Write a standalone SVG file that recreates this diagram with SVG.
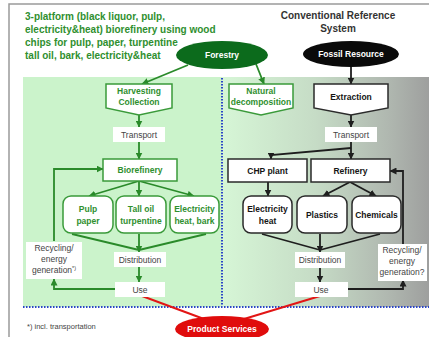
<svg xmlns="http://www.w3.org/2000/svg" width="429" height="337" viewBox="0 0 429 337">
  <defs>
    <linearGradient id="convBg" x1="0" y1="0" x2="1" y2="0">
      <stop offset="0" stop-color="#d6f6d6"/>
      <stop offset="0.45" stop-color="#c6dcc6"/>
      <stop offset="0.8" stop-color="#b0b8b0"/>
      <stop offset="1" stop-color="#9e9f9e"/>
    </linearGradient>
    <marker id="arrG" markerUnits="userSpaceOnUse" markerWidth="7" markerHeight="7" refX="6.5" refY="3.5" orient="auto">
      <path d="M0,0 L7,3.5 L0,7 z" fill="#2a8a2a"/>
    </marker>
    <marker id="arrK" markerUnits="userSpaceOnUse" markerWidth="7" markerHeight="7" refX="6.5" refY="3.5" orient="auto">
      <path d="M0,0 L7,3.5 L0,7 z" fill="#1e1e1e"/>
    </marker>
    <style>
      text { font-family: "Liberation Sans", Arial, sans-serif; }
      .title { font-size: 10px; font-weight: bold; fill: #2f8f2f; }
      .head { font-size: 10px; font-weight: bold; fill: #333; text-anchor: middle; }
      .gbox { fill: #fff; stroke: #3a9a3a; stroke-width: 1.5; }
      .kbox { fill: #fff; stroke: #2a2a2a; stroke-width: 1.5; }
      .plain { fill: #fff; }
      .glab { font-size: 8.5px; font-weight: bold; fill: #2f8f2f; text-anchor: middle; }
      .klab { font-size: 8.5px; font-weight: bold; fill: #151515; text-anchor: middle; }
      .nlab { font-size: 8.5px; fill: #444; text-anchor: middle; }
      .elab { font-size: 8.5px; font-weight: bold; fill: #fff; text-anchor: middle; }
      .gl { fill: none; stroke: #2a8a2a; stroke-width: 1.8; }
      .kl { fill: none; stroke: #1e1e1e; stroke-width: 1.8; }
      .rl { fill: none; stroke: #e21515; stroke-width: 2; }
      .dot { fill: none; stroke: #2b45c8; stroke-width: 2; stroke-dasharray: 1.5 1.5; }
    </style>
  </defs>

  <!-- page and panels -->
  <rect x="0" y="0" width="429" height="337" fill="#fff"/>
  <rect x="9" y="4" width="440" height="350" fill="#fff" stroke="#9a9a9a" stroke-width="1.5"/>
  <rect x="23" y="77" width="199" height="230" fill="#cbf3cb"/>
  <rect x="222" y="77" width="207" height="230" fill="url(#convBg)"/>
  <line class="dot" x1="222" y1="78" x2="222" y2="306"/>
  <line class="dot" x1="23" y1="307" x2="429" y2="307"/>

  <!-- headings -->
  <g id="bio-heading">
    <text class="title" x="25" y="19.5">3-platform (black liquor, pulp,</text>
    <text class="title" x="25" y="32.5">electricity&amp;heat) biorefinery using wood</text>
    <text class="title" x="25" y="45.5">chips for pulp, paper, turpentine</text>
    <text class="title" x="25" y="58.5">tall oil, bark, electricity&amp;heat</text>
  </g>
  <g id="conv-heading">
    <text class="head" x="338" y="19">Conventional Reference</text>
    <text class="head" x="338" y="32">System</text>
  </g>

  <!-- connectors -->
  <g id="connectors">
    <!-- bio side -->
    <line class="gl" x1="188" y1="65" x2="142" y2="84" marker-end="url(#arrG)"/>
    <line class="gl" x1="256" y1="64" x2="264" y2="84" marker-end="url(#arrG)"/>
    <line class="gl" x1="139" y1="115" x2="139" y2="127" marker-end="url(#arrG)"/>
    <line class="gl" x1="139" y1="142" x2="139" y2="159" marker-end="url(#arrG)"/>
    <line class="gl" x1="139" y1="181" x2="89" y2="196" marker-end="url(#arrG)"/>
    <line class="gl" x1="139" y1="181" x2="139" y2="196" marker-end="url(#arrG)"/>
    <line class="gl" x1="139" y1="181" x2="194" y2="196" marker-end="url(#arrG)"/>
    <line class="gl" x1="72" y1="234" x2="139" y2="250"/>
    <line class="gl" x1="206" y1="234" x2="139" y2="250"/>
    <line class="gl" x1="139" y1="234" x2="139" y2="252" marker-end="url(#arrG)"/>
    <line class="gl" x1="139" y1="267" x2="139" y2="282" marker-end="url(#arrG)"/>
    <polyline class="gl" points="115,289 54,289 54,279" marker-end="url(#arrG)"/>
    <polyline class="gl" points="54,241 54,169 103,169" marker-end="url(#arrG)"/>
    <!-- conventional side -->
    <line class="kl" x1="351" y1="67" x2="351" y2="84" marker-end="url(#arrK)"/>
    <line class="kl" x1="351" y1="115" x2="351" y2="127" marker-end="url(#arrK)"/>
    <line class="kl" x1="351" y1="142" x2="351" y2="159" marker-end="url(#arrK)"/>
    <polyline class="kl" points="351,148 271,155 271,159" marker-end="url(#arrK)"/>
    <line class="kl" x1="268" y1="182" x2="268" y2="196" marker-end="url(#arrK)"/>
    <line class="kl" x1="350" y1="182" x2="323" y2="196" marker-end="url(#arrK)"/>
    <line class="kl" x1="350" y1="182" x2="376" y2="196" marker-end="url(#arrK)"/>
    <line class="kl" x1="262" y1="234" x2="320" y2="250"/>
    <line class="kl" x1="380" y1="234" x2="320" y2="250"/>
    <line class="kl" x1="320" y1="234" x2="320" y2="252" marker-end="url(#arrK)"/>
    <line class="kl" x1="320" y1="268" x2="320" y2="282" marker-end="url(#arrK)"/>
    <polyline class="kl" points="348,289 403,289 403,280" marker-end="url(#arrK)"/>
    <polyline class="kl" points="403,244 403,171 390,171" marker-end="url(#arrK)"/>
    <!-- product services -->
    <line class="rl" x1="142" y1="296" x2="204" y2="319"/>
    <line class="rl" x1="320" y1="296" x2="244" y2="319"/>
  </g>

  <!-- resources -->
  <g id="forestry">
    <ellipse cx="222" cy="55" rx="46" ry="14" fill="#0c6b1c"/>
    <text class="elab" x="222" y="58">Forestry</text>
  </g>
  <g id="fossil-resource">
    <ellipse cx="351" cy="54" rx="48" ry="13" fill="#0a0a0a"/>
    <text class="elab" x="351" y="57">Fossil Resource</text>
  </g>

  <!-- bio chain -->
  <g id="harvesting">
    <path class="gbox" d="M106,84 H172 V108 L139,115 L106,108 Z"/>
    <text class="glab" x="139" y="94">Harvesting</text>
    <text class="glab" x="139" y="105">Collection</text>
  </g>
  <g id="natural-decomposition">
    <path class="gbox" d="M229,84 H293 V108 L261,115 L229,108 Z"/>
    <text class="glab" x="261" y="94">Natural</text>
    <text class="glab" x="261" y="105">decomposition</text>
  </g>
  <g id="transport-bio">
    <rect class="plain" x="113" y="127" width="52" height="15"/>
    <text class="nlab" x="139" y="137.5">Transport</text>
  </g>
  <g id="biorefinery">
    <rect class="gbox" x="103" y="159" width="74" height="22"/>
    <text class="glab" x="140" y="173">Biorefinery</text>
  </g>
  <g id="pulp-paper">
    <rect class="gbox" x="63" y="196" width="50" height="37" rx="8"/>
    <text class="glab" x="88" y="212">Pulp</text>
    <text class="glab" x="88" y="224">paper</text>
  </g>
  <g id="tall-oil">
    <rect class="gbox" x="116" y="196" width="50" height="37" rx="8"/>
    <text class="glab" x="141" y="212">Tall oil</text>
    <text class="glab" x="141" y="224">turpentine</text>
  </g>
  <g id="electricity-bark">
    <rect class="gbox" x="170" y="196" width="49" height="37" rx="8"/>
    <text class="glab" x="194.5" y="212">Electricity</text>
    <text class="glab" x="194.5" y="224">heat, bark</text>
  </g>
  <g id="distribution-bio">
    <rect class="plain" x="114" y="252" width="52" height="15"/>
    <text class="nlab" x="140" y="262.5">Distribution</text>
  </g>
  <g id="use-bio">
    <rect class="plain" x="115" y="282" width="50" height="15"/>
    <text class="nlab" x="140" y="292.5">Use</text>
  </g>
  <g id="recycling-bio">
    <rect class="plain" x="26" y="242" width="56" height="37"/>
    <text class="nlab" x="54" y="251">Recycling/</text>
    <text class="nlab" x="54" y="262">energy</text>
    <text class="nlab" x="54" y="273">generation<tspan font-size="5.5px" dy="-3">*)</tspan></text>
  </g>

  <!-- conventional chain -->
  <g id="extraction">
    <path class="kbox" d="M314,84 H388 V108 L351,115 L314,108 Z"/>
    <text class="klab" x="351" y="100">Extraction</text>
  </g>
  <g id="transport-conv">
    <rect class="plain" x="325" y="127" width="52" height="15"/>
    <text class="nlab" x="351" y="137.5">Transport</text>
  </g>
  <g id="chp-plant">
    <rect class="kbox" x="228" y="159" width="79" height="23"/>
    <text class="klab" x="267.5" y="173.5">CHP plant</text>
  </g>
  <g id="refinery">
    <rect class="kbox" x="311" y="159" width="79" height="23"/>
    <text class="klab" x="350.5" y="173.5">Refinery</text>
  </g>
  <g id="electricity-heat">
    <rect class="kbox" x="243" y="196" width="49" height="37" rx="8"/>
    <text class="klab" x="267.5" y="212">Electricity</text>
    <text class="klab" x="267.5" y="224">heat</text>
  </g>
  <g id="plastics">
    <rect class="kbox" x="297" y="196" width="50" height="37" rx="8"/>
    <text class="klab" x="322" y="218">Plastics</text>
  </g>
  <g id="chemicals">
    <rect class="kbox" x="352" y="196" width="49" height="37" rx="8"/>
    <text class="klab" x="376.5" y="218">Chemicals</text>
  </g>
  <g id="distribution-conv">
    <rect class="plain" x="295" y="252" width="50" height="16"/>
    <text class="nlab" x="320" y="263">Distribution</text>
  </g>
  <g id="use-conv">
    <rect class="plain" x="295" y="282" width="53" height="15"/>
    <text class="nlab" x="321" y="292.5">Use</text>
  </g>
  <g id="recycling-conv">
    <rect class="plain" x="378" y="244" width="49" height="37"/>
    <text class="nlab" x="402" y="253">Recycling/</text>
    <text class="nlab" x="402" y="264">energy</text>
    <text class="nlab" x="402" y="275">generation?</text>
  </g>

  <!-- outcome -->
  <g id="product-services">
    <ellipse cx="222" cy="329" rx="47" ry="13" fill="#e00c0c"/>
    <text class="elab" x="222" y="332">Product Services</text>
  </g>
  <text x="27" y="329" font-size="7.5px" fill="#444">*) incl. transportation</text>
</svg>
